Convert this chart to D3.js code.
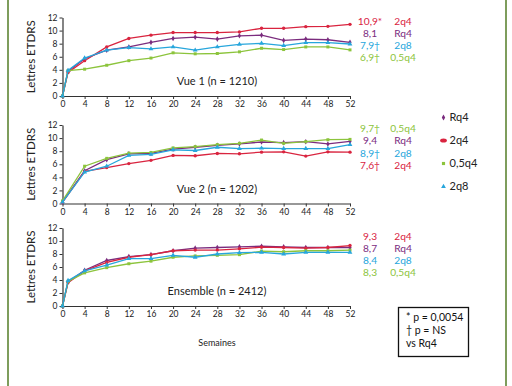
<html><head>
  <script src="https://d3js.org/d3.v7.min.js"></script>
  <style>
    body { margin: 0; background: #fff; }
    text { font-family: Lato, 'Open Sans', sans-serif; }
  </style>
</head>
<body>
  <script>
    // weeks
    const weeksA = [0, 1, 4, 8, 12, 16, 20, 24, 28, 32, 36, 40, 44, 48, 52]
    const weeksB = [0, 4, 8, 12, 16, 20, 24, 28, 32, 36, 40, 44, 48, 52]
    const xTicks = [0, 4, 8, 12, 16, 20, 24, 28, 32, 36, 40, 44, 48, 52]
    const yTicks = [0, 2, 4, 6, 8, 10, 12]
    const groups = ["Rq4", "2q4", "0,5q4", "2q8"]

    // Vue 1
    const v1Rq4  = [0, 3.8, 5.7, 7.0, 7.5, 8.2, 8.8, 9.0, 8.7, 9.2, 9.3, 8.5, 8.7, 8.6, 8.2]
    const v12q4  = [0, 3.6, 5.4, 7.5, 8.8, 9.3, 9.7, 9.7, 9.7, 9.8, 10.35, 10.35, 10.6, 10.65, 10.95]
    const v105q4 = [0, 3.9, 4.1, 4.7, 5.4, 5.8, 6.6, 6.45, 6.5, 6.75, 7.3, 7.1, 7.5, 7.5, 7.05]
    const v12q8  = [0, 3.9, 5.8, 7.0, 7.4, 7.2, 7.5, 7.0, 7.5, 7.9, 8.05, 7.7, 8.15, 8.15, 7.95]
    // Vue 2
    const v2Rq4  = [0.2, 5.0, 6.7, 7.6, 7.65, 8.3, 8.6, 8.9, 9.1, 9.4, 9.3, 9.45, 9.1, 9.5]
    const v22q4  = [0.2, 4.9, 5.5, 6.1, 6.6, 7.35, 7.3, 7.65, 7.6, 7.85, 7.9, 7.25, 7.9, 7.85]
    const v205q4 = [0.4, 5.7, 6.9, 7.7, 7.8, 8.5, 8.7, 9.0, 9.2, 9.7, 9.2, 9.45, 9.75, 9.8]
    const v22q8  = [0.2, 4.8, 5.7, 7.35, 7.5, 8.2, 8.1, 8.6, 8.4, 8.45, 8.4, 8.4, 8.4, 9.0]
    // Ensemble
    const enRq4  = [0, 3.7, 5.5, 7.0, 7.6, 7.9, 8.5, 8.9, 9.0, 9.1, 9.2, 9.1, 9.0, 9.0, 9.0]
    const en2q4  = [0, 3.6, 5.4, 6.7, 7.5, 7.9, 8.5, 8.6, 8.6, 8.8, 9.05, 9.0, 8.9, 9.0, 9.3]
    const en05q4 = [0, 3.8, 5.1, 5.9, 6.5, 6.9, 7.5, 7.7, 7.8, 7.9, 8.45, 8.35, 8.5, 8.5, 8.6]
    const en2q8  = [0, 3.9, 5.4, 6.3, 7.3, 7.3, 7.8, 7.5, 8.0, 8.2, 8.25, 8.0, 8.25, 8.25, 8.25]

    // right hand labels
    const v1Values = ["10,9*", "8,1", "7,9†", "6,9†"]
    const v1Names  = ["2q4", "Rq4", "2q8", "0,5q4"]
    const v2Values = ["9,7†", "9,4", "8,9†", "7,6†"]
    const v2Names  = ["0,5q4", "Rq4", "2q8", "2q4"]
    const enValues = ["9,3", "8,7", "8,4", "8,3"]
    const enNames  = ["2q4", "Rq4", "2q8", "0,5q4"]

    const colors = { "Rq4": "#7b2c7e", "2q4": "#d9243f", "0,5q4": "#8cc43c", "2q8": "#27a6dc" }
    const symbols = { "Rq4": d3.symbolDiamond, "2q4": d3.symbolCircle, "0,5q4": d3.symbolSquare, "2q8": d3.symbolTriangle }

    const panels = [
      { title: "Vue 1 (n = 1210)", weeks: weeksA, series: [v1Rq4, v12q4, v105q4, v12q8], values: v1Values, names: v1Names, y0: 96, y12: 17.5, labelY: 21 },
      { title: "Vue 2 (n = 1202)", weeks: weeksB, series: [v2Rq4, v22q4, v205q4, v22q8], values: v2Values, names: v2Names, y0: 203.5, y12: 125, labelY: 128.5 },
      { title: "Ensemble (n = 2412)", weeks: weeksA, series: [enRq4, en2q4, en05q4, en2q8], values: enValues, names: enNames, y0: 306, y12: 228, labelY: 236 }
    ]

    const svg = d3.select("body").append("svg")
                  .attr("width", 512)
                  .attr("height", 386)

    // green frame
    svg.append("line").attr("x1", 8).attr("x2", 8).attr("y1", 0).attr("y2", 386)
       .attr("stroke", "#7e9d5c").attr("stroke-width", 2)
    svg.append("line").attr("x1", 506).attr("x2", 506).attr("y1", 0).attr("y2", 386)
       .attr("stroke", "#7e9d5c").attr("stroke-width", 2)

    const x = d3.scaleLinear().domain([0, 52]).range([62.5, 350])

    panels.forEach(p => {
      const y = d3.scaleLinear().domain([0, 12]).range([p.y0, p.y12])
      const g = svg.append("g")

      const yAxis = g.append("g")
                     .attr("transform", "translate(62.5,0)")
                     .call(d3.axisLeft(y).tickValues(yTicks).tickSize(3).tickSizeOuter(0))
      const xAxis = g.append("g")
                     .attr("transform", `translate(0,${p.y0})`)
                     .call(d3.axisBottom(x).tickValues(xTicks).tickSize(3).tickSizeOuter(0))
      g.selectAll(".domain").attr("stroke", "#333").attr("stroke-width", 1.2)
      g.selectAll(".tick line").attr("stroke", "#333")
      yAxis.selectAll("text").attr("font-size", 8.5).attr("fill", "#222").attr("x", -5)
        .attr("font-family", "Lato")
      xAxis.selectAll("text").attr("font-size", 8.5).attr("fill", "#222").attr("y", 5)
        .attr("font-family", "Lato")

      g.append("text")
       .attr("transform", `translate(35,${(p.y0 + p.y12) / 2}) rotate(-90)`)
       .attr("text-anchor", "middle")
       .attr("font-size", 11.5)
       .attr("fill", "#222")
       .text("Lettres ETDRS")

      g.append("text")
       .attr("x", 217).attr("y", p.y0 - 11)
       .attr("text-anchor", "middle")
       .attr("font-size", 11)
       .attr("fill", "#222")
       .text(p.title)

      const line = d3.line().x((d, i) => x(p.weeks[i])).y(d => y(d))

      p.series.forEach((s, k) => {
        const grp = groups[k]
        g.append("path")
         .attr("d", line(s))
         .attr("fill", "none")
         .attr("stroke", colors[grp])
         .attr("stroke-width", 1.3)
        g.selectAll(null).data(s).join("path")
         .attr("transform", (d, i) => `translate(${x(p.weeks[i])},${y(d)})`)
         .attr("d", d3.symbol().type(symbols[grp]).size(grp == "2q8" ? 10 : 9))
         .attr("fill", colors[grp])
      })

      p.values.forEach((v, i) => {
        g.append("text")
         .attr("x", 370).attr("y", p.labelY + i * 12.3)
         .attr("dy", "0.35em")
         .attr("text-anchor", "middle")
         .attr("font-size", 10.2)
         .attr("fill", colors[p.names[i]])
         .text(v)
        g.append("text")
         .attr("x", 403).attr("y", p.labelY + i * 12.3)
         .attr("dy", "0.35em")
         .attr("text-anchor", "middle")
         .attr("font-size", 10.2)
         .attr("fill", colors[p.names[i]])
         .text(p.names[i])
      })
    })

    // x axis title
    svg.append("text")
       .attr("x", 217).attr("y", 343)
       .attr("dy", "0.35em")
       .attr("text-anchor", "middle")
       .attr("font-size", 9)
       .attr("fill", "#222")
       .text("Semaines")

    // legend
    groups.forEach((grp, i) => {
      const ly = 117.5 + i * 23
      svg.append("path")
         .attr("d", d3.symbol().type(symbols[grp]).size(grp == "2q4" ? 14 : 10))
         .attr("fill", colors[grp])
         .attr("transform", grp == "2q4" ? `translate(443.5,${ly}) scale(1.6,1)` : `translate(443.5,${ly})`)
      svg.append("text")
         .attr("x", 449.5).attr("y", ly)
         .attr("dy", "0.35em")
         .attr("font-size", 11)
         .attr("fill", "#222")
         .text(grp)
    })

    // significance box
    svg.append("rect")
       .attr("x", 398.5).attr("y", 307.5)
       .attr("width", 70).attr("height", 49)
       .attr("fill", "none")
       .attr("stroke", "#111")
       .attr("stroke-width", 1.3)
    const notes = ["* p = 0,0054", "† p = NS", "vs Rq4"]
    notes.forEach((t, i) => {
      svg.append("text")
         .attr("x", 406).attr("y", 317 + i * 13)
         .attr("dy", "0.35em")
         .attr("font-size", 10.5)
         .attr("fill", "#111")
         .text(t)
    })
  </script>
</body></html>
